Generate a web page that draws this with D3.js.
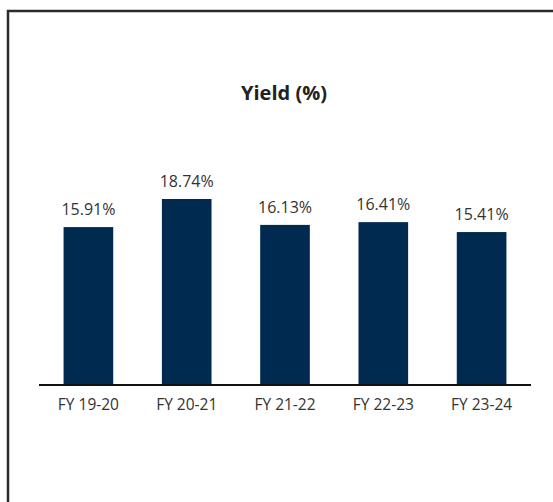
<!DOCTYPE html>
<html>
<head>
<meta charset="utf-8">
<script src="https://cdn.jsdelivr.net/npm/d3@7"></script>
<style>
    body { margin: 0; background: #fff; }
    text { font-family: "Open Sans", sans-serif; }
</style>
</head>
<body>
<div id="div"></div>
<script>
var years = ['FY 19-20', 'FY 20-21', 'FY 21-22', 'FY 22-23', 'FY 23-24'];
var yieldValues = [15.91, 18.74, 16.13, 16.41, 15.41];
var titleText = 'Yield (%)';

var width = 553;
var height = 502;
var svg = d3.select('#div').append('svg')
    .attr('width', width)
    .attr('height', height);

// frame around the chart, runs off the right and bottom edges
svg.append('rect')
    .attr('x', 8)
    .attr('y', 11)
    .attr('width', width)
    .attr('height', height)
    .style('fill', 'none')
    .style('stroke', '#2b2b2b')
    .style('stroke-width', 2.5);

var baseY = 385;
var x = d3.scaleBand()
    .domain(years)
    .range([39, 531])
    .paddingInner(0.495)
    .paddingOuter(0.25);

var y = d3.scaleLinear()
    .domain([0, 18.74])
    .range([baseY, 199]);

svg.append('text')
    .text(titleText)
    .attr('x', 284)
    .attr('y', 100)
    .attr('text-anchor', 'middle')
    .style('font-weight', 'bold')
    .style('font-size', '20px')
    .style('fill', '#222');

svg.append('g').selectAll('rect')
    .data(yieldValues)
    .enter()
    .append('rect')
    .attr('x', function (d, i) { return x(years[i]) })
    .attr('width', x.bandwidth())
    .attr('y', function (d) { return y(d) })
    .attr('height', function (d) { return baseY - y(d) })
    .style('fill', '#012a51');

svg.append('g').selectAll('text')
    .data(yieldValues)
    .enter()
    .append('text')
    .text(function (d) { return d.toFixed(2) + '%' })
    .attr('x', function (d, i) { return x(years[i]) + x.bandwidth() / 2 })
    .attr('y', function (d) { return y(d) - 12 })
    .attr('text-anchor', 'middle')
    .style('font-size', '16px')
    .style('fill', '#333');

var axis = d3.axisBottom(x).tickSize(0).tickPadding(14);
var gx = svg.append('g')
    .attr('transform', 'translate(0,' + baseY + ')')
    .call(axis);
gx.select('.domain')
    .attr('d', 'M39,0H531')
    .style('stroke', '#111')
    .style('stroke-width', 2);
gx.selectAll('text')
    .style('font-family', '"Open Sans", sans-serif')
    .style('font-size', '15.5px')
    .style('fill', '#333');
</script>
</body>
</html>
